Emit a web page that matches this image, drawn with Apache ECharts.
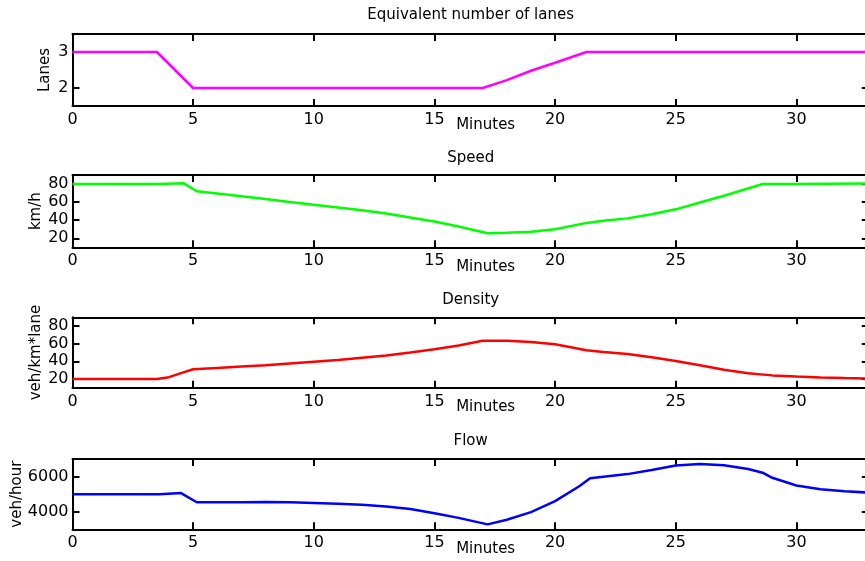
<!DOCTYPE html>
<html><head><meta charset="utf-8">
<script src="https://cdn.jsdelivr.net/npm/echarts@6/dist/echarts.min.js"></script>
<style>html,body{margin:0;padding:0;background:#fff}#c{width:865px;height:561px}</style>
</head><body><div id="c"></div>
<script>
// ---- data ----
const xTicks = [0, 5, 10, 15, 20, 25, 30];

const laneMin = [0, 3.5, 5, 17, 18, 19, 20, 21.3, 33];
const laneVal = [3, 3, 2, 2, 2.22, 2.48, 2.7, 3, 3];

const speedMin = [0, 3.5, 4.6, 5.15, 6, 7, 8, 9, 10, 11, 12, 13, 14, 15, 16, 17.2, 18, 19, 20, 21.3, 22, 23, 24, 25, 26, 27, 28.6, 30, 33];
const speedVal = [80, 80, 81, 72, 69.5, 66.5, 63.5, 60, 57, 54, 51, 47.5, 43, 38.5, 33, 25.5, 26, 27.3, 30, 37, 39.5, 42, 46.5, 52, 59.5, 67, 80, 80, 80.5];

const densMin = [0, 3.5, 4, 4.5, 5, 6, 7, 8, 9, 10, 11, 12, 13, 14, 15, 16, 17, 18, 19, 20, 21.3, 22, 23, 24, 25, 26, 27, 28, 29, 30, 31, 32, 33];
const densVal = [20, 20, 22, 26.5, 31, 32.5, 34, 35.5, 37.5, 39.5, 41.5, 44, 46.5, 50, 53.6, 58, 63.4, 63.3, 62, 59.3, 52.5, 50.5, 48.3, 44.5, 40.4, 35.5, 30.5, 26.5, 24, 22.6, 21.6, 21, 20.5];

const flowMin = [0, 3.6, 4.5, 5.15, 6, 7, 8, 9, 10, 11, 12, 13, 14, 15, 16, 17.2, 18, 19, 20, 21, 21.45, 22, 23, 24, 25, 26, 27, 28, 28.6, 29, 30, 31, 32, 33];
const flowVal = [5000, 5000, 5060, 4540, 4540, 4540, 4550, 4540, 4500, 4450, 4390, 4300, 4150, 3910, 3650, 3280, 3540, 3980, 4600, 5450, 5900, 5990, 6140, 6380, 6630, 6710, 6640, 6430, 6220, 5930, 5490, 5280, 5160, 5090];

const titles = ['Equivalent number of lanes', 'Speed', 'Density', 'Flow'];
const yNames = ['Lanes', 'km/h', 'veh/km*lane', 'veh/hour'];
const yTicks = [[2, 3], [20, 40, 60, 80], [20, 40, 60, 80], [4000, 6000]];
const yRanges = [[1.5, 3.5], [10, 90], [10, 90], [3000, 7000]];
const xName = 'Minutes';
const xRange = [0, 33];

// ---- layout / style ----
const seriesMins = [laneMin, speedMin, densMin, flowMin];
const seriesVals = [laneVal, speedVal, densVal, flowVal];
const colors = ['#ff00ff', '#00ff00', '#ff0000', '#0000ff'];
const gridLeft = 72.5, gridWidth = 796.3;
const gridTop = [34, 175, 317.3, 459];
const gridH = [72, 72.3, 70.4, 70.3];
const titleTop = [8, 150.5, 292.5, 434];
const yNameGap = [19.7, 28.7, 28.7, 48];
const FF = 'DejaVu Sans';

const axisLine = { show: true, onZero: false, lineStyle: { color: '#000', width: 2 } };
const plain = v => String(v);

const grid = [], xAxis = [], yAxis = [], series = [], title = [];
for (let i = 0; i < 4; i++) {
  grid.push({ left: gridLeft, top: gridTop[i], width: gridWidth, height: gridH[i], containLabel: false, outerBoundsMode: 'none' });
  title.push({
    text: titles[i], left: gridLeft + gridWidth / 2, textAlign: 'center', top: titleTop[i], padding: 0,
    textStyle: { fontSize: 15, fontWeight: 'normal', fontFamily: FF, color: '#000' }
  });
  const tick = { show: true, inside: true, length: 7, lineStyle: { color: '#000', width: 2 } };
  xAxis.push({
    gridIndex: i, type: 'value', min: xRange[0], max: xRange[1], position: 'bottom',
    axisLine, axisTick: Object.assign({ customValues: xTicks }, tick),
    axisLabel: { customValues: xTicks, formatter: plain, color: '#000', fontSize: 16, fontFamily: FF, margin: 6 },
    splitLine: { show: false },
    name: xName, nameLocation: 'middle', nameGap: 12, nameMoveOverlap: false,
    nameTextStyle: { color: '#000', fontSize: 15, fontFamily: FF, padding: [0, 0, 0, 30] }
  });
  xAxis.push({
    gridIndex: i, type: 'value', min: xRange[0], max: xRange[1], position: 'top',
    axisLine, axisTick: Object.assign({ customValues: xTicks }, tick),
    axisLabel: { show: false }, splitLine: { show: false }
  });
  yAxis.push({
    gridIndex: i, type: 'value', min: yRanges[i][0], max: yRanges[i][1], position: 'left',
    axisLine, axisTick: Object.assign({ customValues: yTicks[i] }, tick),
    axisLabel: { customValues: yTicks[i], formatter: plain, color: '#000', fontSize: 16, fontFamily: FF, margin: 4 },
    splitLine: { show: false },
    name: yNames[i], nameLocation: 'middle', nameGap: yNameGap[i], nameMoveOverlap: false,
    nameTextStyle: { color: '#000', fontSize: 15, fontFamily: FF }
  });
  yAxis.push({
    gridIndex: i, type: 'value', min: yRanges[i][0], max: yRanges[i][1], position: 'right',
    axisLine, axisTick: Object.assign({ customValues: yTicks[i] }, tick),
    axisLabel: { show: false }, splitLine: { show: false }
  });
  series.push({
    type: 'line', xAxisIndex: 2 * i, yAxisIndex: 2 * i,
    data: seriesMins[i].map((m, k) => [m, seriesVals[i][k]]),
    symbol: 'none', showSymbol: false, smooth: false,
    lineStyle: { color: colors[i], width: 2.5 }, itemStyle: { color: colors[i] },
    z: 1
  });
}

const chart = echarts.init(document.getElementById('c'), null, { renderer: 'canvas' });
chart.setOption({ animation: false, backgroundColor: '#fff', title, grid, xAxis, yAxis, series });
</script>
</body></html>
